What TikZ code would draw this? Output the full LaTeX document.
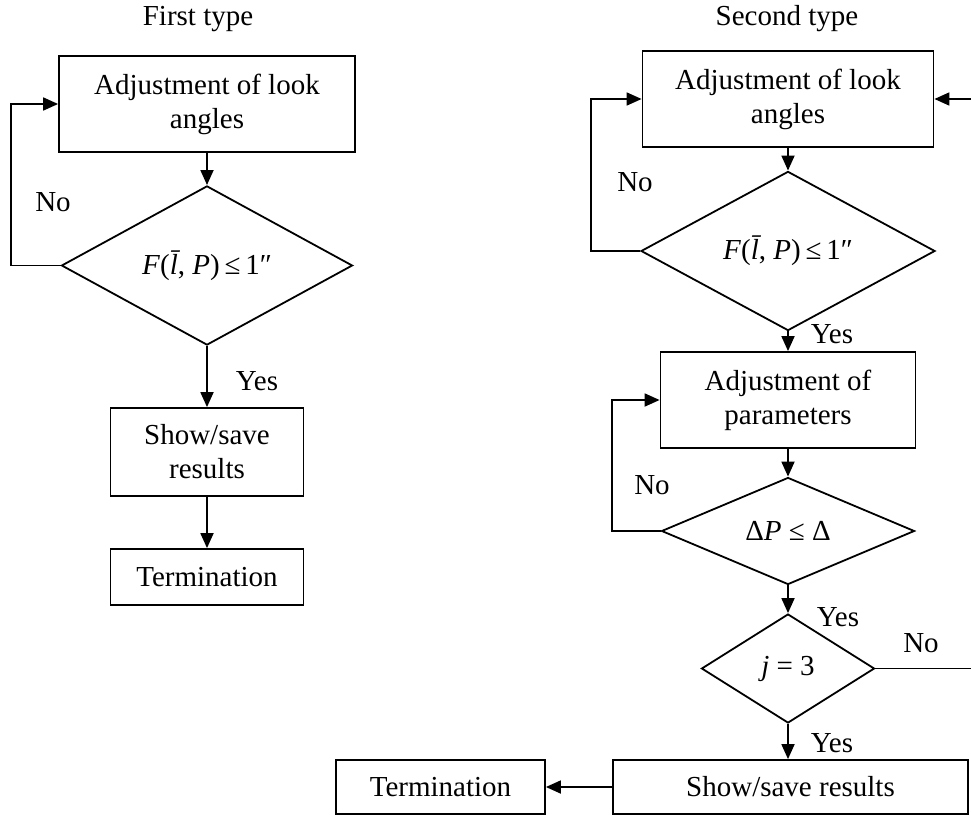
\documentclass[tikz,border=0pt]{standalone}
\usepackage{fontspec}
\setmainfont{Liberation Serif}
\usetikzlibrary{shapes.geometric,arrows.meta}

\begin{document}
\begin{tikzpicture}[%
    x=1pt, y=-1pt,                       % Coordinates follow the page, top-down
    >={Triangle[length=15pt,width=13pt]}, % Filled arrow heads
    line width=1.8pt,
    font=\fontsize{29}{34}\selectfont,
    ]
% -------------------------------------------------
% A few box styles
\tikzset{
  base/.style={draw, align=center, inner sep=0pt},
  proc/.style={base, rectangle},
  test/.style={base, diamond},
  % Connector line style
  norm/.style={->, draw},
  lbl/.style={inner sep=0pt}
}
\useasboundingbox (0,0) rectangle (971,816);
% -------------------------------------------------
% First type
\node [lbl] (t1) at (198,19) {First type};
\node [proc, minimum width=296pt, minimum height=96pt] (la) at (207,104)
  {Adjustment of look\\angles};
\node [test, minimum width=291pt, minimum height=101pt] (ld) at (207,265.5)
  {\textit{F}(\textit{\=l}, \textit{P})\,≤\,1″};
\node [proc, minimum width=193pt, minimum height=88pt] (ls) at (207,452)
  {Show/save\\results};
\node [proc, minimum width=193pt, minimum height=56pt] (lt) at (207,577)
  {Termination};

\draw [norm] (la) -- (ld);
\draw [norm] (ld) -- (ls);
\draw [norm] (ls) -- (lt);
\draw [norm] (ld.west) -- ++(-50,0) |- (la.west);
\node [lbl] at (257,381) {Yes};
\node [lbl] at (53,202) {No};

% -------------------------------------------------
% Second type
\node [lbl] (t2) at (787,19) {Second type};
\node [proc, minimum width=291pt, minimum height=96pt] (ra) at (788,99)
  {Adjustment of look\\angles};
\node [test, minimum width=294pt, minimum height=132pt] (rd1) at (788,251)
  {\textit{F}(\textit{\=l}, \textit{P})\,≤\,1″};
\node [proc, minimum width=255pt, minimum height=96pt] (rp) at (788,400)
  {Adjustment of\\parameters};
\node [test, minimum width=253pt, minimum height=107pt] (rd2) at (788,531)
  {Δ\textit{P} ≤ Δ};
\node [test, minimum width=173pt, minimum height=109pt] (rd3) at (788,668.5)
  {\textit{j} = 3};
\node [proc, minimum width=355pt, minimum height=54pt] (rs) at (790.5,787)
  {Show/save results};
\node [proc, minimum width=209pt, minimum height=54pt] (rt) at (440.5,787)
  {Termination};

\draw [norm] (ra) -- (rd1);
\draw [norm] (rd1) -- (rp);
\draw [norm] (rp) -- (rd2);
\draw [norm] (rd2) -- (rd3);
\draw [norm] (rd3) -- (rs.north -| rd3.south);
\draw [norm] (rs.west) -- (rt.east);
\draw [norm] (rd1.west) -- ++(-49,0) |- (ra.west);
\draw [norm] (rd2.west) -- ++(-49,0) |- (rp.west);
\draw [norm] (rd3.east) -- ++(100,0) |- (ra.east);

\node [lbl] at (832,334) {Yes};
\node [lbl] at (838,617) {Yes};
\node [lbl] at (832,743) {Yes};
\node [lbl] at (635,182) {No};
\node [lbl] at (652,485) {No};
\node [lbl] at (921,643) {No};
% -------------------------------------------------
\end{tikzpicture}
\end{document}
